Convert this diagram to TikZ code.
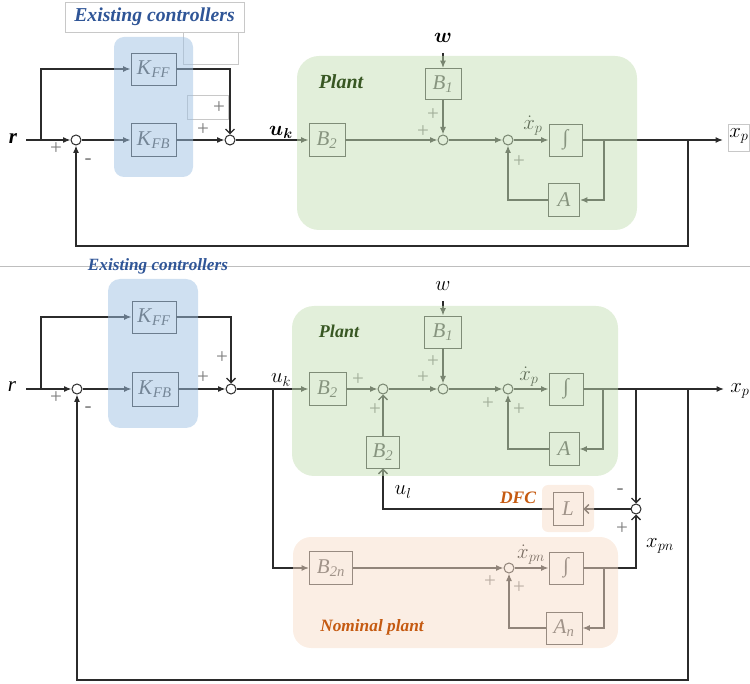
\documentclass[tikz,border=0pt]{standalone}
\usepackage{amsmath}
\usepackage{fontspec}
\setmainfont{Liberation Serif}
\usetikzlibrary{arrows.meta}
\definecolor{wirec}{HTML}{2B2B2B}
\definecolor{blkc}{HTML}{3A3A3A}
\definecolor{blktext}{HTML}{4A4A4A}
\definecolor{signc}{HTML}{7A7A7A}
\definecolor{framec}{HTML}{C8C8C8}
\definecolor{sepc}{HTML}{BEBEBE}
\definecolor{ctrlbg}{RGB}{159,193,227}
\definecolor{plantbg}{RGB}{197,223,181}
\definecolor{nombg}{RGB}{247,221,201}
\definecolor{ctrltitle}{HTML}{2F5597}
\definecolor{planttitle}{HTML}{385723}
\definecolor{nomtitle}{HTML}{C55A11}
\newcommand{\blkl}[2]{\textit{#1}\textsubscript{\textit{#2}}}
\begin{document}
\begin{tikzpicture}[x=1pt,y=-1pt,
  wire/.style={draw=wirec, line width=1.3pt},
  blk/.style={draw=blkc, line width=0.9pt, fill=white, inner sep=0pt, text=blktext,
              font=\fontsize{21}{24}\selectfont},
  bsz/.style 2 args={minimum width=#1pt, minimum height=#2pt},
  sumc/.style={circle, draw=wirec, fill=white, line width=1pt, minimum size=10pt, inner sep=0pt},
  sgn/.style={text=signc, inner sep=0pt, font=\fontsize{21}{21}\selectfont},
  mlab/.style={inner sep=0pt, font=\fontsize{21}{24}\selectfont},
  fa/.style={-{Latex[length=7.5pt,width=6pt]}},
  oa/.style={-{Straight Barb[length=4.5pt,width=9pt]}},
  faintbox/.style={draw=framec, line width=0.8pt, fill=white},
  ttl/.style={inner sep=0pt, font=\bfseries\itshape\fontsize{19.7}{22}\selectfont},
  overlay/.style={fill opacity=0.5},
]
\useasboundingbox (0,0) rectangle (750,684);

% ---------------- upper loop: existing controllers only ----------------
\draw[faintbox] (65,2) rectangle (244,32);
\draw[faintbox] (183,32) rectangle (238,64);
\draw[faintbox] (187,95) rectangle (228,119);
\draw[faintbox] (728,124) rectangle (749.5,151);

\node[mlab, font=\bfseries\itshape\fontsize{21}{24}\selectfont] (rT) at (13,139) {r};
\coordinate (rTin) at (26,140);
\coordinate (jT) at (41,140);
\node[sumc] (s1T) at (76,140) {};
\node[blk,bsz={45}{32}] (kffT) at (153.5,69) {\blkl{K}{FF}};
\node[blk,bsz={45}{33}] (kfbT) at (153.5,140) {\blkl{K}{FB}};
\node[sumc] (s2T) at (230,140) {};
\node[blk,bsz={36}{33}] (b2T) at (327,140) {\blkl{B}{2}};
\node[mlab] (wT) at (443,38) {$\boldsymbol{w}$};
\coordinate (wTin) at (443,53);
\node[blk,bsz={36}{31}] (b1T) at (443,84) {\blkl{B}{1}};
\node[sumc] (s3T) at (443,140) {};
\node[sumc] (s4T) at (508,140) {};
\node[blk,bsz={33}{32}] (intT) at (565.5,140) {∫};
\node[blk,bsz={31}{33}] (AT) at (564,200) {\textit{A}};
\coordinate (fbT) at (604,140);
\coordinate (brT) at (688,140);
\coordinate (botT) at (688,246);
\coordinate (outT) at (723,140);
\node[mlab] (xpT) at (739,136) {$x_p$};

\draw[wire,fa] (rTin) -- (s1T);
\draw[wire,fa] (jT) |- (kffT);
\draw[wire,fa] (s1T) -- (kfbT);
\draw[wire,fa] (kfbT) -- (s2T);
\draw[wire,oa] (kffT) -| (s2T);
\draw[wire,fa] (s2T) -- (b2T);
\draw[wire,fa] (b2T) -- (s3T);
\draw[wire,fa] (wTin) -- (b1T);
\draw[wire,fa] (b1T) -- (s3T);
\draw[wire,fa] (s3T) -- (s4T);
\draw[wire,fa] (s4T) -- (intT);
\draw[wire,fa] (intT) -- (outT);
\draw[wire,fa] (fbT) |- (AT);
\draw[wire,fa] (AT) -| (s4T);
\draw[wire,fa] (brT) -- (botT) -| (s1T);

\node[sgn] at (56,149) {+};
\node[sgn] at (88,162) {-};
\node[sgn] at (219,108) {+};
\node[sgn] at (203,130) {+};
\node[sgn] at (433,115) {+};
\node[sgn] at (423,132) {+};
\node[sgn] at (519,162) {+};
\node[mlab] (ukT) at (281,132) {$\boldsymbol{u_k}$};
\node[mlab] (xdT) at (533,126) {$\dot{x}_p$};

\fill[ctrlbg, overlay, rounded corners=10pt] (114,37) rectangle (193,177);
\fill[plantbg, overlay, rounded corners=22pt] (297,56) rectangle (637,230);

\node[ttl, text=ctrltitle] (ecT) at (154.5,17) {Existing controllers};
\node[ttl, text=planttitle, font=\bfseries\itshape\fontsize{20}{22}\selectfont] (plT) at (341,82) {Plant};

% ---------------- separator ----------------
\draw[sepc, line width=1pt] (0,267) -- (750,267);

% ---------------- lower loop: with disturbance feedback ----------------
\node[mlab, font=\itshape\fontsize{21}{24}\selectfont] (rB) at (12,387) {r};
\coordinate (rBin) at (26,389);
\coordinate (jB) at (41,389);
\node[sumc] (s1B) at (77,389) {};
\node[blk,bsz={44}{32}] (kffB) at (154,317) {\blkl{K}{FF}};
\node[blk,bsz={46}{34}] (kfbB) at (155,389) {\blkl{K}{FB}};
\node[sumc] (s2B) at (231,389) {};
\coordinate (jUk) at (273,389);
\node[blk,bsz={37}{33}] (b2aB) at (327.5,389) {\blkl{B}{2}};
\node[sumc] (sAB) at (383,389) {};
\node[blk,bsz={33}{32}] (b2bB) at (383,452) {\blkl{B}{2}};
\node[mlab] (wB) at (443,286) {$w$};
\coordinate (wBin) at (443,301);
\node[blk,bsz={37}{32}] (b1B) at (443,332) {\blkl{B}{1}};
\node[sumc] (s3B) at (443,389) {};
\node[sumc] (s4B) at (508,389) {};
\node[blk,bsz={34}{32}] (intB) at (566,389) {∫};
\node[blk,bsz={30}{33}] (AB) at (564,449) {\textit{A}};
\coordinate (fbB) at (603,389);
\coordinate (brpB) at (636,389);
\coordinate (br2B) at (688,389);
\coordinate (botB) at (688,680);
\coordinate (outB) at (724,389);
\node[mlab] (xpB) at (740,391) {$x_p$};
\node[sumc] (s5B) at (636,509) {};
\node[blk,bsz={30}{33}] (LB) at (568,509) {\textit{L}};
\node[blk,bsz={43}{33}] (b2nB) at (331,568) {\blkl{B}{2n}};
\node[sumc] (s6B) at (509,568) {};
\node[blk,bsz={34}{32}] (intnB) at (566,568) {∫};
\node[blk,bsz={36}{32}] (AnB) at (564,628) {\blkl{A}{n}};
\coordinate (fbnB) at (604,568);

\draw[wire,fa] (rBin) -- (s1B);
\draw[wire,fa] (jB) |- (kffB);
\draw[wire,fa] (s1B) -- (kfbB);
\draw[wire,fa] (kfbB) -- (s2B);
\draw[wire,oa] (kffB) -| (s2B);
\draw[wire,fa] (s2B) -- (b2aB);
\draw[wire,fa] (jUk) |- (b2nB);
\draw[wire,fa] (b2aB) -- (sAB);
\draw[wire,oa] (b2bB) -- (sAB);
\draw[wire,fa] (sAB) -- (s3B);
\draw[wire,fa] (wBin) -- (b1B);
\draw[wire,fa] (b1B) -- (s3B);
\draw[wire,fa] (s3B) -- (s4B);
\draw[wire,fa] (s4B) -- (intB);
\draw[wire,fa] (intB) -- (outB);
\draw[wire,fa] (fbB) |- (AB);
\draw[wire,fa] (AB) -| (s4B);
\draw[wire,oa] (brpB) -- (s5B);
\draw[wire,fa] (br2B) -- (botB) -| (s1B);
\draw[wire,oa] (s5B) -- (LB);
\draw[wire,oa] (LB) -| (b2bB);
\draw[wire,fa] (b2nB) -- (s6B);
\draw[wire,fa] (s6B) -- (intnB);
\draw[wire,oa] (intnB) -| (s5B);
\draw[wire,fa] (fbnB) |- (AnB);
\draw[wire,fa] (AnB) -| (s6B);

\node[sgn] at (56,398) {+};
\node[sgn] at (88,410) {-};
\node[sgn] at (222,358) {+};
\node[sgn] at (203,378) {+};
\node[sgn] at (358,380) {+};
\node[sgn] at (375,410) {+};
\node[sgn] at (433,362) {+};
\node[sgn] at (423,378) {+};
\node[sgn] at (488,404) {+};
\node[sgn] at (519,410) {+};
\node[sgn] at (620,492) {-};
\node[sgn] at (622,529) {+};
\node[sgn] at (490,582) {+};
\node[sgn] at (519,588) {+};
\node[mlab] (ukB) at (281,380) {$u_k$};
\node[mlab] (xdB) at (529,377) {$\dot{x}_p$};
\node[mlab] (ulB) at (403,492) {$u_l$};
\node[mlab] (xpnB) at (660,546) {$x_{pn}$};
\node[mlab] (xdnB) at (531,555) {$\dot{x}_{pn}$};

\fill[ctrlbg, overlay, rounded corners=12pt] (108,279) rectangle (198,428);
\fill[plantbg, overlay, rounded corners=22pt] (292,306) rectangle (618,476);
\fill[nombg, overlay, rounded corners=6pt] (542,485) rectangle (594,532);
\fill[nombg, overlay, rounded corners=18pt] (293,537) rectangle (618,648);

\node[ttl, text=ctrltitle, font=\bfseries\itshape\fontsize{17.2}{20}\selectfont] (ecB) at (158,266) {Existing controllers};
\node[ttl, text=planttitle, font=\bfseries\itshape\fontsize{18}{20}\selectfont] (plB) at (339,331) {Plant};
\node[ttl, text=nomtitle, font=\bfseries\itshape\fontsize{17.5}{20}\selectfont] (dfcB) at (518,498) {DFC};
\node[ttl, text=nomtitle, font=\bfseries\itshape\fontsize{17.3}{20}\selectfont] (npB) at (372,627) {Nominal plant};
\end{tikzpicture}
\end{document}
